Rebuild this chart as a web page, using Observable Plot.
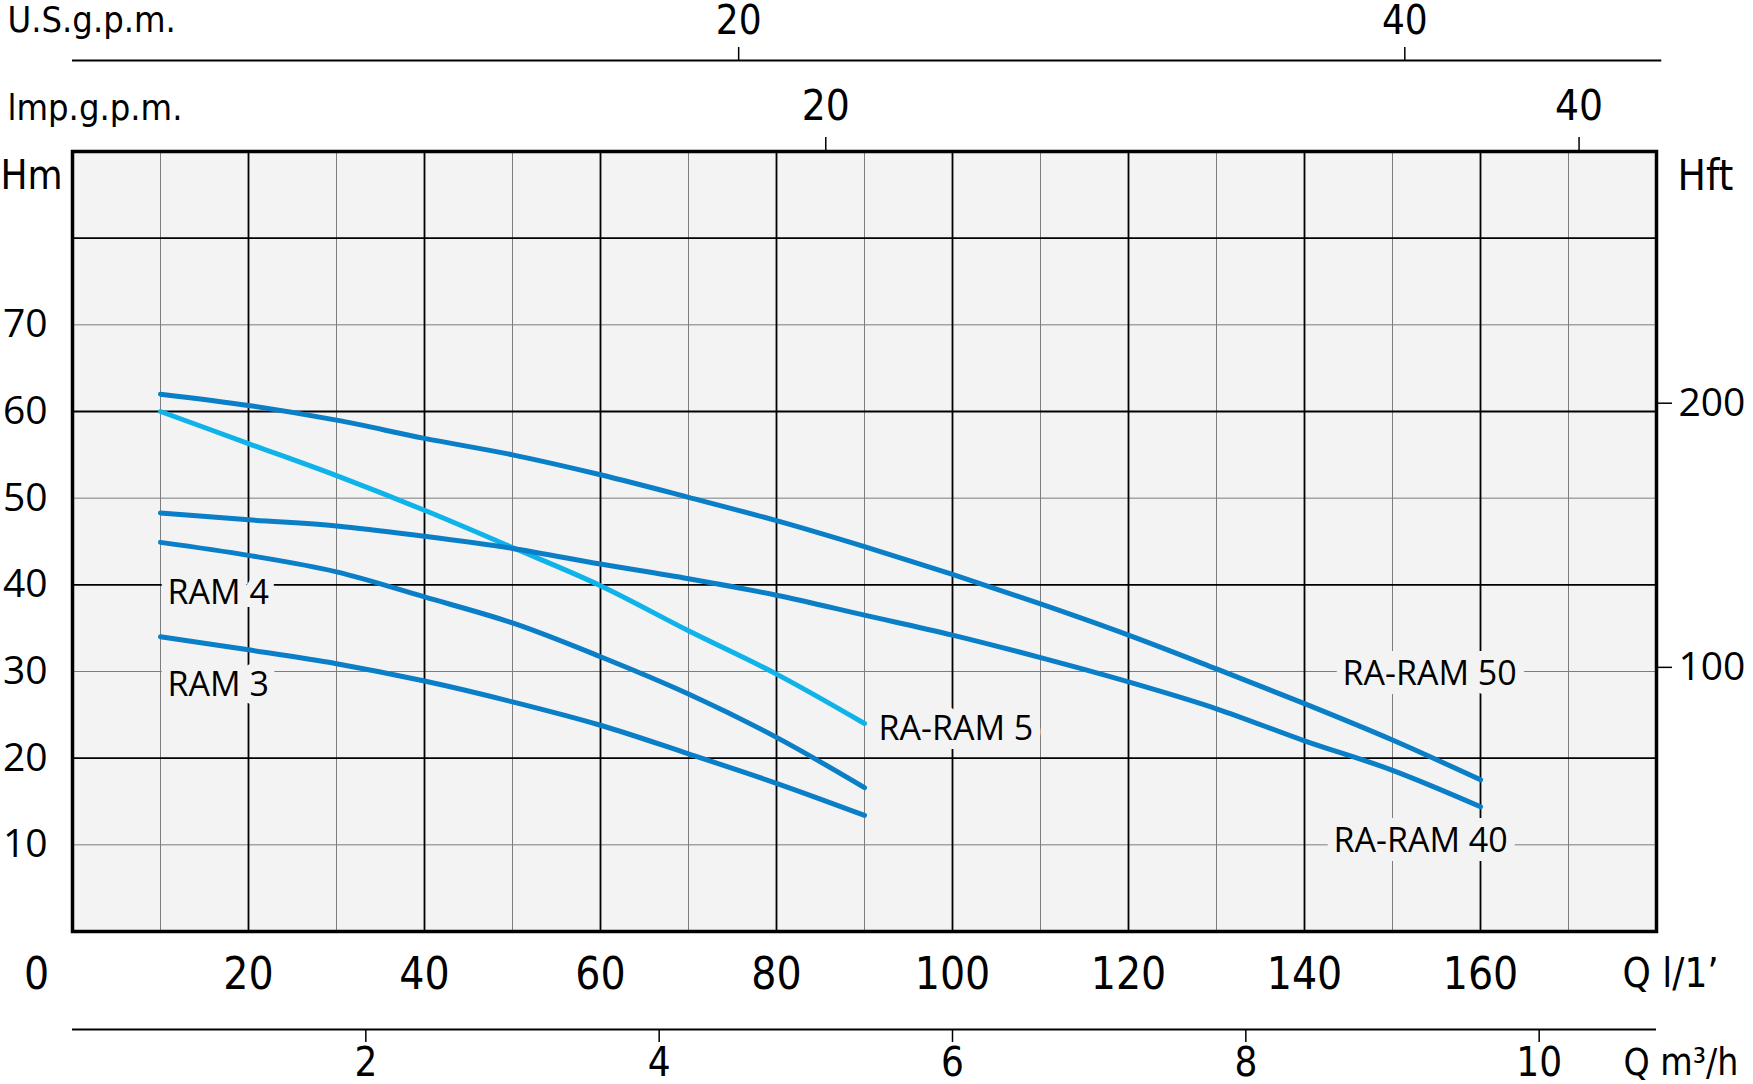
<!DOCTYPE html>
<html>
<head>
<meta charset="utf-8">
<script src="https://cdn.jsdelivr.net/npm/d3@7"></script>
<script src="https://cdn.jsdelivr.net/npm/@observablehq/plot@0.6"></script>
<style>
  html, body { margin: 0; padding: 0; background: #fff; }
  #chart svg { display: block; }
</style>
</head>
<body>
<div id="chart"></div>
<script>
// ---------------- DATA ----------------
const flowShort = [10, 20, 30, 40, 50, 60, 70, 80, 90];                       // Q l/min
const flowLong  = [10, 20, 30, 40, 50, 60, 70, 80, 90, 100, 110, 120, 130, 140, 150, 160];

const headRAM3    = [34.0, 32.5, 30.9, 28.9, 26.5, 23.8, 20.5, 17.1, 13.4];  // H m
const headRAM4    = [44.9, 43.4, 41.5, 38.6, 35.6, 31.7, 27.4, 22.4, 16.6];
const headRARAM5  = [60.0, 56.3, 52.6, 48.6, 44.3, 39.9, 34.7, 29.7, 24.0];
const headRARAM40 = [48.3, 47.5, 46.8, 45.6, 44.2, 42.4, 40.7, 38.8, 36.5, 34.2, 31.6, 28.8, 25.7, 22.0, 18.6, 14.4];
const headRARAM50 = [62.0, 60.7, 59.0, 56.9, 55.0, 52.7, 50.1, 47.4, 44.4, 41.2, 37.8, 34.2, 30.3, 26.3, 22.1, 17.5];

const seriesNames = ["RAM 3", "RAM 4", "RA-RAM 5", "RA-RAM 40", "RA-RAM 50"];

const flowTicks   = [20, 40, 60, 80, 100, 120, 140, 160];   // l/min
const headTicks   = [10, 20, 30, 40, 50, 60, 70];           // m
const headFtTicks = [100, 200];                             // ft
const m3hTicks    = [2, 4, 6, 8, 10];                       // m3/h
const usGpmTicks  = [20, 40];                               // U.S. g.p.m.
const impGpmTicks = [20, 40];                               // Imp. g.p.m.

const gridMajorFlow = [20, 40, 60, 80, 100, 120, 140, 160];
const gridMinorFlow = [10, 30, 50, 70, 90, 110, 130, 150, 170];
const gridMajorHead = [20, 40, 60, 80];
const gridMinorHead = [10, 30, 50, 70];

// unit conversions (Imp factor as drawn on the reference)
const L_PER_US_GAL = 3.785;
const L_PER_IMP_GAL = 4.28;
const FT_PER_M = 3.281;

// ---------------- TABLE ----------------
const rows = [
  ...flowShort.map((q, i) => ({name: "RAM 3", q, h: headRAM3[i]})),
  ...flowShort.map((q, i) => ({name: "RAM 4", q, h: headRAM4[i]})),
  ...flowShort.map((q, i) => ({name: "RA-RAM 5", q, h: headRARAM5[i]})),
  ...flowLong.map((q, i) => ({name: "RA-RAM 40", q, h: headRARAM40[i]})),
  ...flowLong.map((q, i) => ({name: "RA-RAM 50", q, h: headRARAM50[i]}))
];

// ---------------- STYLE ----------------
const DIN = "'Liberation Sans Narrow', 'DejaVu Sans Condensed', 'Liberation Sans', sans-serif";
const SANS = "'Open Sans', 'Noto Sans', sans-serif";
const DARK = "#0a7ec6";
const LIGHT = "#0fb3e9";
const BG = "#f3f3f3";

function curveLabel(name, end, dx, dy) {
  const pts = rows.filter(d => d.name === name);
  const p = end === "first" ? pts[0] : pts[pts.length - 1];
  return Plot.text([p], {
    x: "q", y: "h", text: () => name, dx, dy,
    textAnchor: "start", lineAnchor: "middle",
    fontSize: 34, fontFamily: SANS, fill: "#000",
    stroke: BG, strokeWidth: 18, strokeLinejoin: "miter", paintOrder: "stroke"
  });
}

const chart = Plot.plot({
  width: 1753,
  height: 1084,
  marginLeft: 72,
  marginRight: 97,
  marginTop: 151,
  marginBottom: 153,
  style: {background: "#fff", fontFamily: DIN, overflow: "visible", color: "#000"},
  x: {domain: [0, 180], label: null},
  y: {domain: [0, 90], label: null},
  color: {domain: seriesNames, range: [DARK, DARK, LIGHT, DARK, DARK]},
  marks: [
    Plot.frame({fill: BG}),
    Plot.gridX(gridMinorFlow, {stroke: "#7d7d7d", strokeOpacity: 1, strokeWidth: 1}),
    Plot.gridY(gridMinorHead, {stroke: "#7d7d7d", strokeOpacity: 1, strokeWidth: 1}),
    Plot.gridX(gridMajorFlow, {stroke: "#000", strokeOpacity: 1, strokeWidth: 1.8}),
    Plot.gridY(gridMajorHead, {stroke: "#000", strokeOpacity: 1, strokeWidth: 1.8}),

    // labels (with background knock-out) then curves
    curveLabel("RAM 4", "first", 7, 51),
    curveLabel("RAM 3", "first", 7, 48),
    curveLabel("RA-RAM 5", "last", 14, 6),
    curveLabel("RA-RAM 50", "last", -138, -106),
    curveLabel("RA-RAM 40", "last", -147, 34),

    Plot.line(rows, {x: "q", y: "h", z: "name", stroke: "name", strokeWidth: 5,
      strokeLinecap: "round", strokeLinejoin: "round", curve: "catmull-rom"}),

    Plot.frame({stroke: "#000", strokeWidth: 3.5}),

    // bottom axis: l/min
    Plot.axisX(flowTicks, {anchor: "bottom", tickSize: 0, tickPadding: 43, lineAnchor: "middle",
      fontSize: 44, fontFamily: DIN, label: null}),
    Plot.text(["0"], {frameAnchor: "bottom-left", dx: -36, dy: 43, textAnchor: "middle", lineAnchor: "middle",
      fontSize: 44, fontFamily: DIN}),
    Plot.text(["Q l/1\u2019"], {frameAnchor: "bottom-right", dx: -34, dy: 43, textAnchor: "start", lineAnchor: "middle",
      fontSize: 40, fontFamily: DIN}),

    // m3/h axis
    Plot.ruleY([0], {x1: 0, x2: 180, dy: 98, stroke: "#000", strokeWidth: 2}),
    Plot.axisX(m3hTicks.map(v => v * 1000 / 60), {anchor: "bottom", dy: 98, tickSize: 13, tickPadding: 21,
      lineAnchor: "middle", tickFormat: d => Math.round(d * 60 / 1000), fontSize: 40, fontFamily: DIN, label: null,
      strokeWidth: 1.5}),
    Plot.text(["Q m\u00B3/h"], {frameAnchor: "bottom-right", dx: -33, dy: 132, textAnchor: "start", lineAnchor: "middle",
      fontSize: 37, fontFamily: DIN}),

    // Imp g.p.m. axis (on top of frame)
    Plot.axisX(impGpmTicks.map(v => v * L_PER_IMP_GAL), {anchor: "top", tickSize: 15, tickPadding: 30,
      lineAnchor: "middle", tickFormat: d => Math.round(d / L_PER_IMP_GAL), fontSize: 42, fontFamily: DIN,
      label: null, strokeWidth: 1.5}),
    Plot.text(["lmp.g.p.m."], {frameAnchor: "top-left", dx: -65, dy: -43, textAnchor: "start", lineAnchor: "middle",
      fontSize: 36, fontFamily: DIN, letterSpacing: 2}),

    // U.S. g.p.m. axis
    Plot.ruleY([90], {x1: 0, x2: 180.6, dy: -91, stroke: "#000", strokeWidth: 2}),
    Plot.axisX(usGpmTicks.map(v => v * L_PER_US_GAL), {anchor: "top", dy: -91, tickSize: 14, tickPadding: 25,
      lineAnchor: "middle", tickFormat: d => Math.round(d / L_PER_US_GAL), fontSize: 40, fontFamily: DIN,
      label: null, strokeWidth: 1.5}),
    Plot.text(["U.S.g.p.m."], {frameAnchor: "top-left", dx: -65, dy: -131, textAnchor: "start", lineAnchor: "middle",
      fontSize: 36, fontFamily: DIN, letterSpacing: 2}),

    // left axis: H m
    Plot.axisY(headTicks, {anchor: "left", tickSize: 0, tickPadding: 25, fontSize: 39, fontFamily: SANS, label: null}),
    Plot.text(["Hm"], {frameAnchor: "top-left", dx: -72, dy: 25, textAnchor: "start", lineAnchor: "middle",
      fontSize: 40, fontFamily: DIN}),

    // right axis: H ft
    Plot.axisY(headFtTicks.map(v => v / FT_PER_M), {anchor: "right", tickSize: 15, tickPadding: 7,
      tickFormat: d => Math.round(d * FT_PER_M), fontSize: 39, fontFamily: SANS, label: null, strokeWidth: 1.5}),
    Plot.text(["Hft"], {frameAnchor: "top-right", dx: 21, dy: 25, textAnchor: "start", lineAnchor: "middle",
      fontSize: 42, fontFamily: DIN, letterSpacing: 2})
  ]
});
document.getElementById("chart").appendChild(chart);
</script>
</body>
</html>
